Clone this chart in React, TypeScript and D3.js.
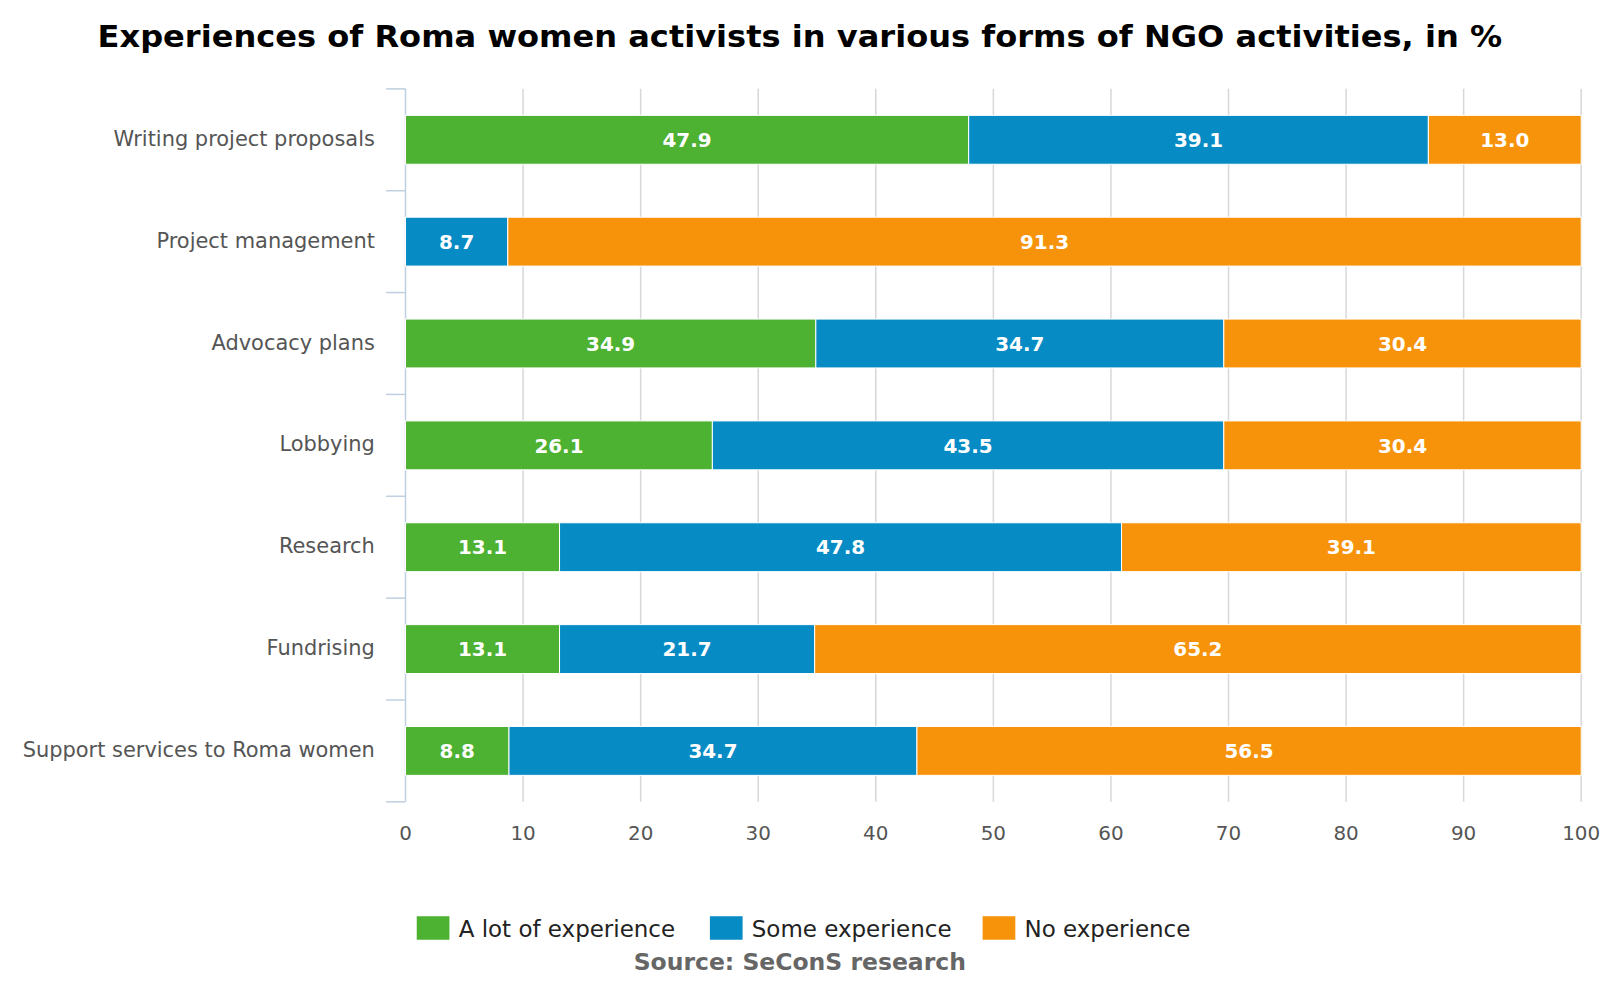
import React from "react";
import * as d3 from "d3";

const categories = ["Writing project proposals","Project management","Advocacy plans","Lobbying","Research","Fundrising","Support services to Roma women"];
const seriesNames = ["A lot of experience","Some experience","No experience"];
const aLot = [47.9, 0, 34.9, 26.1, 13.1, 13.1, 8.8];
const some = [39.1, 8.7, 34.7, 43.5, 47.8, 21.7, 34.7];
const none = [13.0, 91.3, 30.4, 30.4, 39.1, 65.2, 56.5];
const colors = ["#4db132", "#068bc5", "#f7930a"];
const xTicks = [0,10,20,30,40,50,60,70,80,90,100];

export default function App() {
  const left = 397, right = 1548, top = 87, bottom = 785;
  const x = d3.scaleLinear().domain([0, 100]).range([left, right]);
  const y = d3.scaleBand().domain(categories).range([top, bottom]).paddingInner(0.52).paddingOuter(0.26);
  const series = [aLot, some, none];
  const font = "DejaVu Sans, sans-serif";
  const legendX = [408, 695, 962];
  const s = 1 / 0.979;
  return (
    <svg width={1600} height={1000} style={{ position: "absolute", left: 0, top: 0, background: "#fff" }} fontFamily={font}>
      <g transform={`scale(${s})`}>
        <text x={783} y={46} textAnchor="middle" fontSize={29} fontWeight="bold" fill="#000" textLength={1375} lengthAdjust="spacingAndGlyphs">Experiences of Roma women activists in various forms of NGO activities, in %</text>
        {xTicks.map(t => (
          <g key={t}>
            {t > 0 && <line x1={x(t)} x2={x(t)} y1={top} y2={bottom} stroke="#d8d8d8" strokeWidth={1.5} />}
            <text x={x(t)} y={822} textAnchor="middle" fontSize={19.5} fill="#555">{t}</text>
          </g>
        ))}
        <line x1={left} x2={left} y1={top} y2={bottom} stroke="#c0d0e0" strokeWidth={1.5} />
        {d3.range(categories.length + 1).map(i => {
          const yy = top + (i * (bottom - top)) / categories.length;
          return <line key={i} x1={378} x2={left} y1={yy} y2={yy} stroke="#c0d0e0" strokeWidth={1.5} />;
        })}
        {categories.map((c, i) => {
          let acc = 0;
          return (
            <g key={c}>
              <text x={367} y={y(c)! + y.bandwidth() / 2 + 6} textAnchor="end" fontSize={20.5} fill="#555">{c}</text>
              {series.map((ser, k) => {
                const v = ser[i];
                const x0 = acc; acc += v;
                if (v <= 0) return null;
                return (
                  <g key={k}>
                    <rect x={x(x0)} y={y(c)} width={x(x0 + v) - x(x0)} height={y.bandwidth()} fill={colors[k]} stroke="#fff" strokeWidth={1} />
                    <text x={(x(x0) + x(x0 + v)) / 2} y={y(c)! + y.bandwidth() / 2 + 7} textAnchor="middle" fontSize={19.5} fontWeight="bold" fill="#fff">{v.toFixed(1)}</text>
                  </g>
                );
              })}
            </g>
          );
        })}
        {seriesNames.map((n, k) => (
          <g key={n}>
            <rect x={legendX[k]} y={897} width={32} height={23} fill={colors[k]} />
            <text x={legendX[k] + 41} y={917} fontSize={22.5} fill="#222">{n}</text>
          </g>
        ))}
        <text x={783} y={950} textAnchor="middle" fontSize={23} fontWeight="bold" fill="#666">Source: SeConS research</text>
      </g>
    </svg>
  );
}
